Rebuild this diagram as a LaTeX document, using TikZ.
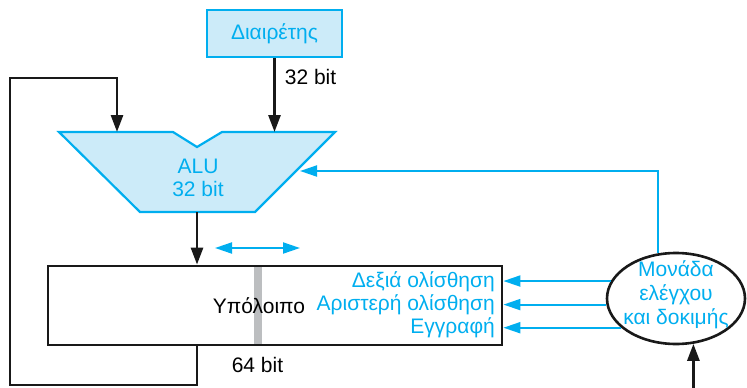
\documentclass[tikz,border=0pt]{standalone}
\usepackage{fontspec}
\setmainfont{Liberation Sans}
\usetikzlibrary{arrows.meta, positioning, shapes.geometric}
\definecolor{ctrlblue}{HTML}{00AEEF}
\definecolor{unitfill}{HTML}{CCEBF9}
\definecolor{bargray}{HTML}{BCBEC0}

\begin{document}
\begin{tikzpicture}[
    x=1pt, y=-1pt,
    font=\fontsize{21}{22.5}\selectfont,
    datapath/.style = {draw=black!90, line width=2.8pt, -{Triangle[length=17pt,width=12pt]}},
    ctrlpath/.style = {draw=ctrlblue, line width=2pt, -{Triangle[length=17pt,width=11pt]}},
    unitbox/.style = {rectangle, draw=ctrlblue, fill=unitfill, line width=2.2pt, text=ctrlblue, minimum width=135pt, minimum height=47pt},
    regbox/.style = {rectangle, draw=black!90, line width=2.8pt, minimum width=454pt, minimum height=79pt},
    ctrlunit/.style = {ellipse, draw=black!90, fill=white, line width=2.6pt, inner sep=0pt, minimum width=138pt, minimum height=91pt},
    ctrllabel/.style = {align=center, text=ctrlblue, inner sep=0pt, font=\fontsize{21}{24}\selectfont},
    ctrltext/.style = {text=ctrlblue, anchor=east, inner sep=0pt},
    wlabel/.style = {inner sep=0pt}]

    \useasboundingbox (0,0) rectangle (747,388);

    % divisor and ALU
    \node[unitbox] (div) at (274.5,33.5) {Διαιρέτης};
    \filldraw[draw=ctrlblue, fill=unitfill, line width=2.2pt, line join=miter]
        (59,132) -- (173,132) -- (197,147) -- (222,132) -- (335,132) -- (255,212) -- (140,212) -- cycle;
    \node[align=center, text=ctrlblue] (alu) at (198,178) {ALU\\32 bit};
    \coordinate (alu-a) at (117,132);
    \coordinate (alu-b) at (274.5,132);
    \coordinate (alu-out) at (197,212);
    \coordinate (alu-ctl) at (300,171);

    % remainder register
    \fill[bargray] (254,266) rectangle (262,345);
    \node[regbox] (reg) at (275,305.5) {};
    \node (rem) at (259,306) {Υπόλοιπο};
    \node[ctrltext] (sr) at (495,282) {Δεξιά ολίσθηση};
    \node[ctrltext] (sl) at (495,305) {Αριστερή ολίσθηση};
    \node[ctrltext] (wr) at (495,328) {Εγγραφή};

    % control unit
    \node[ctrlunit] (ctrl) at (676,298.5) {};
    \node[ctrllabel] (ctrl-txt) at ([yshift=4pt]ctrl.center) {Μονάδα\\ελέγχου\\και δοκιμής};

    \coordinate (loop-bl) at (10,385);
    \coordinate (loop-tl) at (10,78);
    \coordinate (sh-l) at (215,248);
    \coordinate (sh-r) at (300,248);
    \coordinate (tst-in) at (693,390);

    \draw[datapath] (div) -- node[pos=0.25, right=9pt, wlabel] {32 bit} (alu-b);
    \draw[datapath] (reg.south -| alu-out) |- (loop-bl) -- (loop-tl) -| (alu-a);
    \draw[datapath] (alu-out) -- (alu-out |- reg.north);
    \draw[ctrlpath, {Triangle[length=17pt,width=11pt]}-{Triangle[length=17pt,width=11pt]}] (sh-l) -- (sh-r);

    \draw[ctrlpath] (ctrl.112) |- (alu-ctl);
    \draw[ctrlpath] (ctrl.165) -- (ctrl.165 -| reg.east);
    \draw[ctrlpath] (ctrl.185) -- (ctrl.185 -| reg.east);
    \draw[ctrlpath] (ctrl.208) -- (ctrl.208 -| reg.east);
    \draw[datapath] (ctrl.291 |- tst-in) -- (ctrl.291);

    \node[wlabel] (len) at (257.5,365) {64 bit};
\end{tikzpicture}
\end{document}
